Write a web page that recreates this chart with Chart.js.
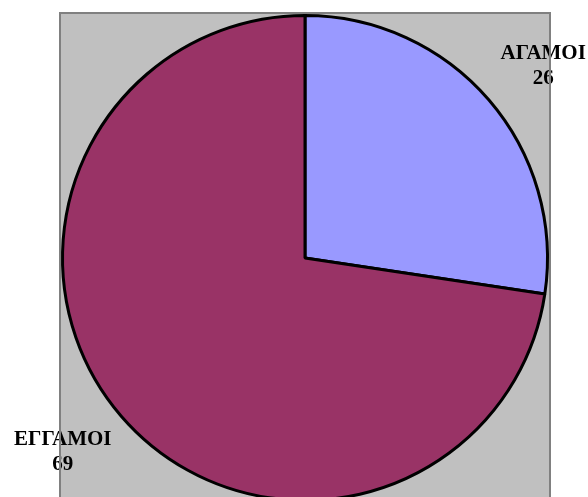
<!DOCTYPE html>
<html>
<head>
<meta charset="utf-8">
<script src="https://cdn.jsdelivr.net/npm/chart.js@4/dist/chart.umd.min.js"></script>
<style>
  html, body { margin: 0; padding: 0; background: #fff; overflow: hidden; }
  #wrap { position: absolute; left: 0; top: 0; width: 588px; height: 510px; }
</style>
</head>
<body>
<div id="wrap"><canvas id="pie-chart"></canvas></div>
<script>
const labels = ['ΑΓΑΜΟΙ', 'ΕΓΓΑΜΟΙ']
const values = [26, 69]
const colors = ['#9999FF', '#993366']

// grey plot box behind the pie, like the old office chart
const plotBox = {
  id: 'plotBox',
  beforeDraw (chart) {
    const { ctx, chartArea } = chart
    ctx.save()
    ctx.fillStyle = '#C0C0C0'
    ctx.fillRect(chartArea.left - 2, chartArea.top - 2, chartArea.right - chartArea.left + 4, 600)
    ctx.restore()
  },
  afterDraw (chart) {
    const { ctx, chartArea } = chart
    ctx.save()
    ctx.strokeStyle = '#808080'
    ctx.lineWidth = 2
    ctx.beginPath()
    ctx.moveTo(chartArea.left - 1, 600)
    ctx.lineTo(chartArea.left - 1, chartArea.top - 1)
    ctx.lineTo(chartArea.right + 1, chartArea.top - 1)
    ctx.lineTo(chartArea.right + 1, 600)
    ctx.stroke()
    ctx.restore()
  }
}

// outside labels: name and value on two lines
const outLabels = {
  id: 'outLabels',
  afterDatasetsDraw (chart) {
    const { ctx } = chart
    const meta = chart.getDatasetMeta(0)
    ctx.save()
    ctx.font = 'bold 21px "Liberation Serif", "Times New Roman", serif'
    ctx.fillStyle = '#000'
    ctx.textAlign = 'center'
    ctx.textBaseline = 'alphabetic'
    meta.data.forEach((arc, i) => {
      const mid = (arc.startAngle + arc.endAngle) / 2 + 0.035
      const r = arc.outerRadius * 1.27
      const x = arc.x + Math.cos(mid) * r - 2
      const y = arc.y + Math.sin(mid) * r
      ctx.fillText(labels[i], x, y - 6)
      ctx.fillText(String(values[i]), x, y + 19)
    })
    ctx.restore()
  }
}

new Chart(document.getElementById('pie-chart'), {
  type: 'pie',
  data: {
    labels: labels,
    datasets: [{
      data: values,
      backgroundColor: colors,
      borderColor: '#000',
      borderWidth: 3
    }]
  },
  options: {
    responsive: true,
    maintainAspectRatio: false,
    animation: false,
    events: [],
    layout: {
      padding: { left: 61, right: 39, top: 14, bottom: 8 }
    },
    plugins: {
      legend: { display: false },
      tooltip: { enabled: false }
    }
  },
  plugins: [plotBox, outLabels]
})
</script>
</body>
</html>
